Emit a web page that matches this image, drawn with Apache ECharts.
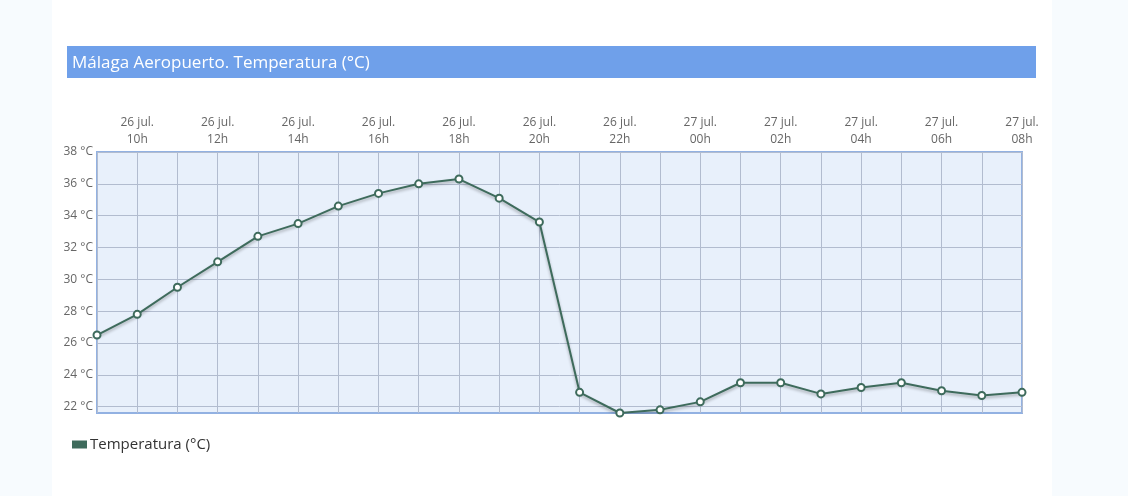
<!DOCTYPE html>
<html>
<head>
<meta charset="utf-8">
<script src="https://cdn.jsdelivr.net/npm/echarts@6/dist/echarts.min.js"></script>
<style>
html,body{margin:0;padding:0;width:1128px;height:496px;overflow:hidden;background:#f7fbfe;}
#frame{position:absolute;left:52px;top:0;width:1000px;height:496px;background:#ffffff;}
#chart{position:absolute;left:0;top:0;width:1128px;height:496px;}
</style>
</head>
<body>
<div id="frame"></div>
<div id="chart"></div>
<script>
const titleText = 'Málaga Aeropuerto. Temperatura (°C)';
const seriesName = 'Temperatura (°C)';
const categories = [
  '26 jul.\n09h','26 jul.\n10h','26 jul.\n11h','26 jul.\n12h','26 jul.\n13h','26 jul.\n14h',
  '26 jul.\n15h','26 jul.\n16h','26 jul.\n17h','26 jul.\n18h','26 jul.\n19h','26 jul.\n20h',
  '26 jul.\n21h','26 jul.\n22h','26 jul.\n23h','27 jul.\n00h','27 jul.\n01h','27 jul.\n02h',
  '27 jul.\n03h','27 jul.\n04h','27 jul.\n05h','27 jul.\n06h','27 jul.\n07h','27 jul.\n08h'
];
const temperatures = [26.5, 27.8, 29.5, 31.1, 32.7, 33.5, 34.6, 35.4, 36.0, 36.3, 35.1, 33.6,
  22.9, 21.6, 21.8, 22.3, 23.5, 23.5, 22.8, 23.2, 23.5, 23.0, 22.7, 22.9];
const yTicks = [22, 24, 26, 28, 30, 32, 34, 36, 38];

const lineColor = '#3e6b5c';
const chart = echarts.init(document.getElementById('chart'), null, {renderer: 'canvas'});
chart.setOption({
  animation: false,
  textStyle: {fontFamily: 'Open Sans'},
  graphic: [
    {type: 'rect', left: 67, top: 46, shape: {width: 969, height: 32}, style: {fill: '#6fa0ea'}},
    {type: 'text', left: 72, top: 55, style: {text: titleText, fill: '#ffffff', font: '17px "Open Sans"'}}
  ],
  legend: {
    left: 67, top: 432, itemWidth: 15, itemHeight: 8, itemGap: 4,
    icon: 'rect',
    textStyle: {color: '#333', fontSize: 15, fontFamily: 'Open Sans', padding: [0, 0, 0, -2]},
    itemStyle: {color: lineColor, borderWidth: 0},
    data: [seriesName]
  },
  grid: {
    left: 97, right: 106, top: 152, bottom: 83,
    show: true, backgroundColor: '#e8f0fb', borderColor: '#92b1e2', borderWidth: 2
  },
  xAxis: {
    type: 'category', position: 'top', boundaryGap: false, data: categories,
    axisLine: {show: false}, axisTick: {show: false},
    axisLabel: {
      interval: (i) => i % 2 === 1, color: '#666', fontSize: 12, lineHeight: 17, margin: 4,
      fontFamily: 'Open Sans'
    },
    splitLine: {show: true, interval: 0, lineStyle: {color: '#b2bccf', width: 1}}
  },
  yAxis: {
    type: 'value', min: 21.6, max: 38,
    axisLine: {show: false}, axisTick: {show: false, customValues: yTicks},
    axisLabel: {customValues: yTicks, formatter: (v) => v + ' °C', color: '#666', fontSize: 12, margin: 4, fontFamily: 'Open Sans'},
    splitLine: {show: true, lineStyle: {color: '#b2bccf', width: 1}}
  },
  series: [{
    name: seriesName, type: 'line', data: temperatures,
    symbol: 'circle', symbolSize: 7, showSymbol: true,
    lineStyle: {color: lineColor, width: 2, shadowColor: 'rgba(0,0,0,0.3)', shadowBlur: 3, shadowOffsetY: 2},
    itemStyle: {color: '#ffffff', borderColor: lineColor, borderWidth: 2}
  }]
});
</script>
</body>
</html>
